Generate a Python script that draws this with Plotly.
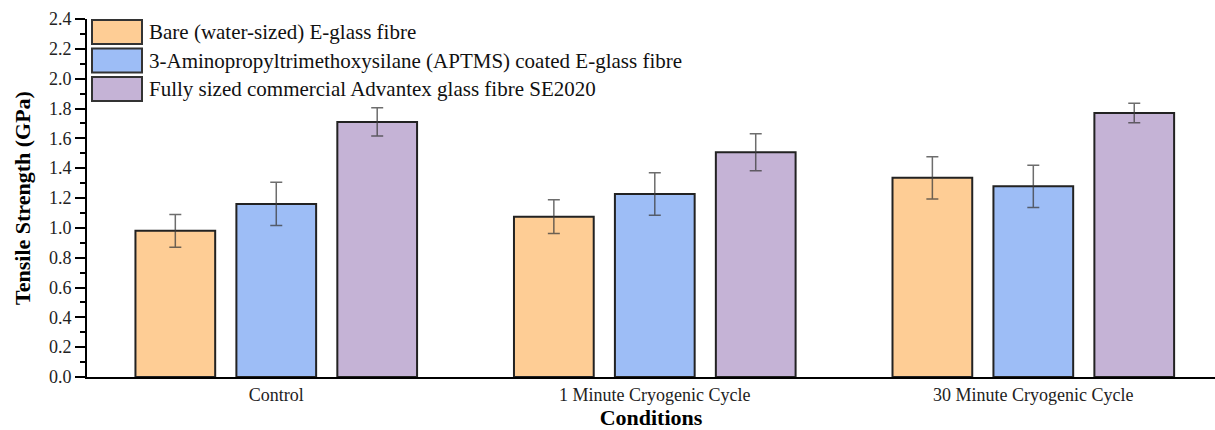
import plotly.graph_objects as go

categories = ["Control", "1 Minute Cryogenic Cycle", "30 Minute Cryogenic Cycle"]
series_names = [
    "Bare (water-sized) E-glass fibre",
    "3-Aminopropyltrimethoxysilane (APTMS) coated E-glass fibre",
    "Fully sized commercial Advantex glass fibre SE2020",
]
bare_vals = [0.98, 1.075, 1.335]
bare_err = [0.11, 0.113, 0.142]
aptms_vals = [1.16, 1.227, 1.278]
aptms_err = [0.145, 0.143, 0.142]
advantex_vals = [1.71, 1.506, 1.77]
advantex_err = [0.095, 0.124, 0.066]

colors = ["#FECD95", "#9DBDF6", "#C5B3D6"]
FONT = "Liberation Serif, Times New Roman, serif"

W, H = 1215, 430
ML, MR, MT, MB = 87, 0, 19, 53
PW, PH = W - ML - MR, H - MT - MB

fig = go.Figure()
for name, vals, errs, col in zip(series_names,
                                 [bare_vals, aptms_vals, advantex_vals],
                                 [bare_err, aptms_err, advantex_err],
                                 colors):
    fig.add_trace(go.Bar(
        x=categories, y=vals, name=name, showlegend=False,
        marker=dict(color=col, line=dict(color="#222222", width=2)),
        error_y=dict(type="data", array=errs, visible=True,
                     color="rgba(60,60,60,0.75)", thickness=1.5, width=6),
    ))

# custom legend with large swatches (paper coordinates derived from pixel layout)
box_x0, box_x1 = 5 / PW, 55 / PW
row_h = 28.5
first_center = 13
box_h = 24
shapes, annotations = [], []
for i, (name, col) in enumerate(zip(series_names, colors)):
    cy = first_center + i * row_h
    shapes.append(dict(type="rect", xref="paper", yref="paper",
                       x0=box_x0, x1=box_x1,
                       y0=1 - (cy + box_h / 2) / PH, y1=1 - (cy - box_h / 2) / PH,
                       fillcolor=col, line=dict(color="#333333", width=2)))
    annotations.append(dict(text=name, xref="paper", yref="paper",
                            x=60 / PW, y=1 - cy / PH, xanchor="left", yanchor="middle",
                            showarrow=False,
                            font=dict(family=FONT, size=21, color="#111111")))

fig.update_layout(
    width=W, height=H,
    margin=dict(l=ML, r=MR, t=MT, b=MB),
    paper_bgcolor="white", plot_bgcolor="white",
    font=dict(family=FONT, color="black", size=18),
    barmode="group", bargap=0.2, bargroupgap=0.21,
    showlegend=False,
    shapes=shapes, annotations=annotations,
    xaxis=dict(
        range=[-0.5, 2.48], showline=True, linecolor="black", linewidth=2,
        ticks="", showgrid=False, zeroline=False,
        tickfont=dict(family=FONT, size=18, color="#222222"),
        title=dict(text="<b>Conditions</b>", standoff=6,
                   font=dict(family=FONT, size=22, color="black")),
    ),
    yaxis=dict(
        range=[0, 2.4], dtick=0.2, tickformat=".1f",
        showline=True, linecolor="black", linewidth=2,
        ticks="outside", ticklen=10, tickwidth=2, tickcolor="black",
        minor=dict(dtick=0.1, ticks="outside", ticklen=5, tickwidth=2, tickcolor="black"),
        showgrid=False, zeroline=False,
        tickfont=dict(family=FONT, size=18, color="#222222"),
        title=dict(text="<b>Tensile Strength (GPa)</b>", standoff=12,
                   font=dict(family=FONT, size=22, color="black")),
    ),
)

fig.write_html("out.html")
